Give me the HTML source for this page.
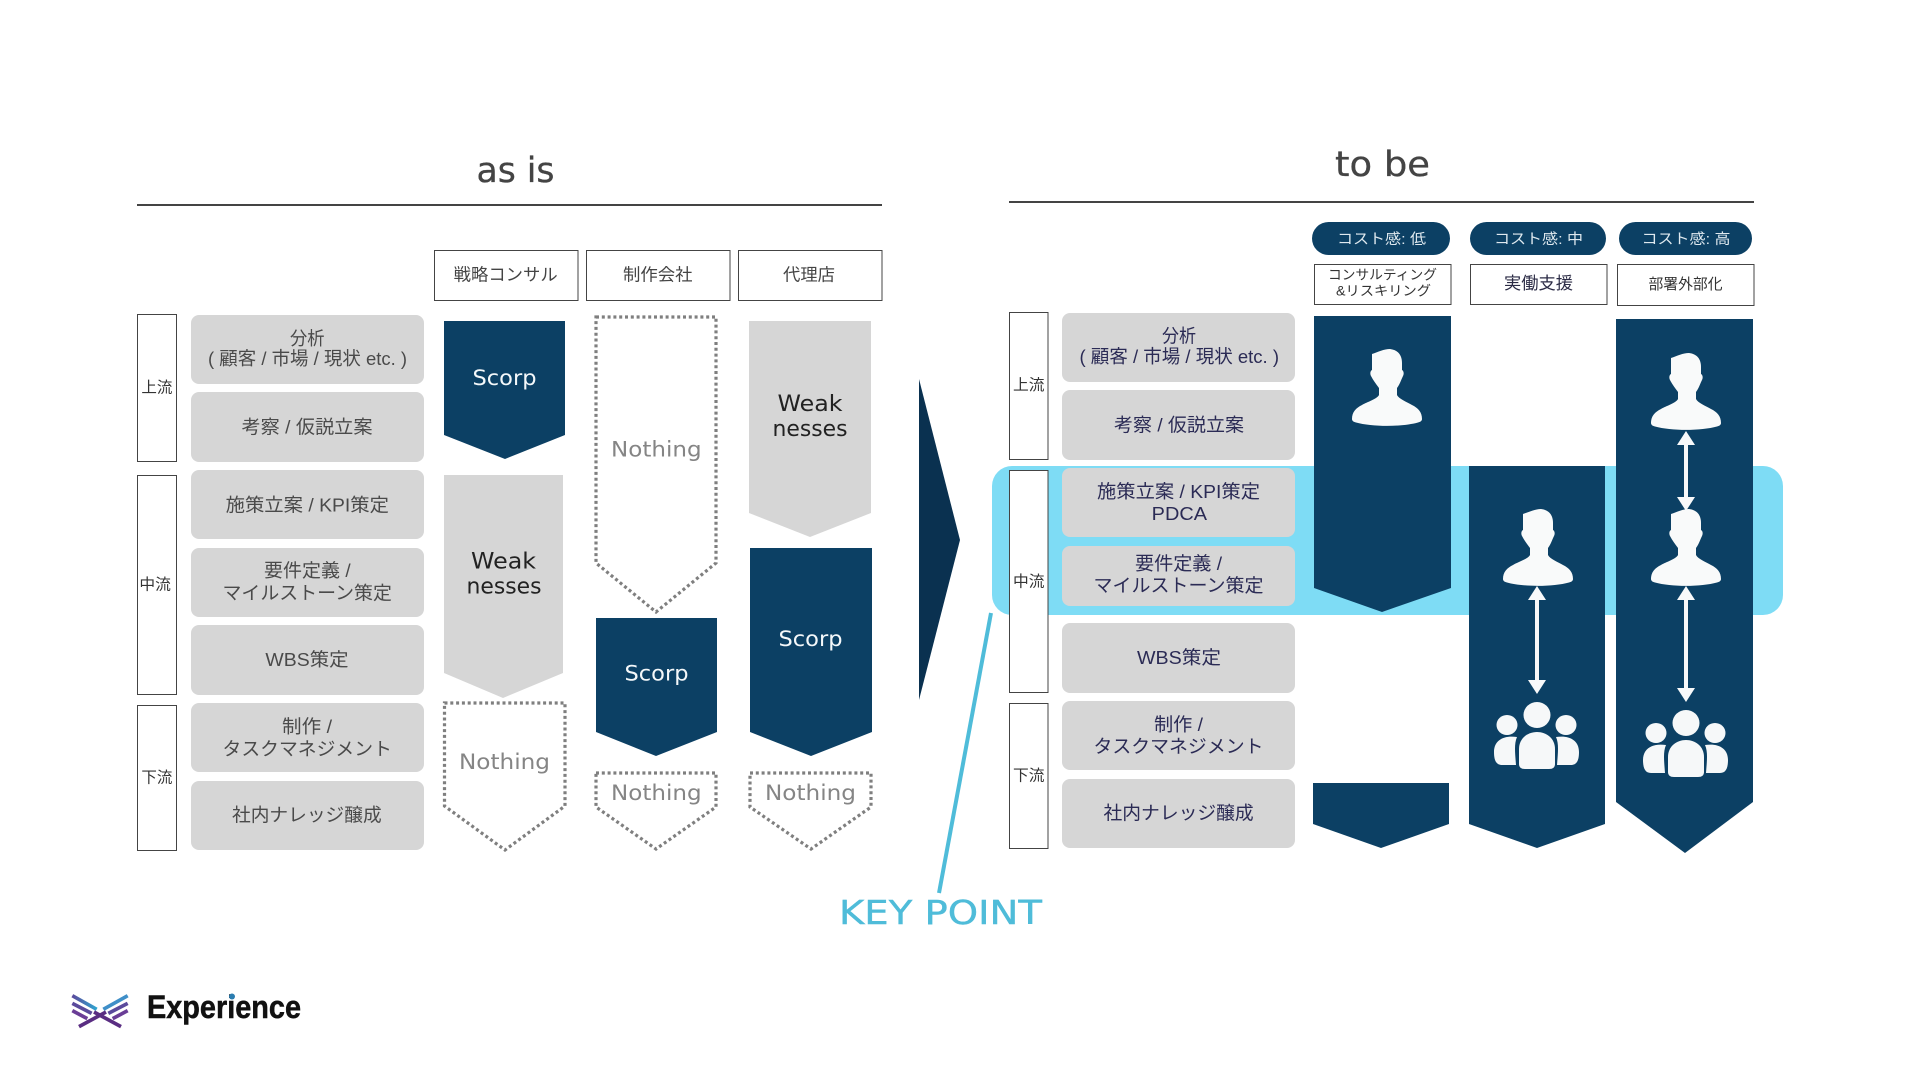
<!DOCTYPE html>
<html lang="ja"><head><meta charset="utf-8"><title>as is / to be</title>
<style>
html,body{margin:0;padding:0;background:#fff;width:1920px;height:1080px;overflow:hidden}
svg{display:block}
text{font-family:"Liberation Sans","Noto Sans CJK JP",sans-serif;white-space:pre}
.m{font-family:"DejaVu Sans","Noto Sans CJK JP",sans-serif}
.a{font-size:18.5px;fill:#4a4a4a}
.t{font-size:18.5px;fill:#2b2b55}
.g{fill:#d6d6d6}
.n{fill:#0c4064}
.d{fill:none;stroke:#7f7f7f;stroke-width:3.2;stroke-dasharray:3 2.8}
.b{fill:#fff;stroke:#444;stroke-width:1}
.tg{font-size:15.5px;fill:#333}
.h{font-size:17px;fill:#444}
.w{font-size:21px;fill:#f4f8fa}
.no{font-size:21px;fill:#858585}
.k{font-size:22px;fill:#222}
.p{font-size:14.5px;fill:#dfe9ef}
.ln{stroke:#f8f9fa;stroke-width:4}
</style></head><body>
<svg xmlns="http://www.w3.org/2000/svg" width="1920" height="1080" viewBox="0 0 1920 1080">
<defs>
<linearGradient id="lg1" x1="0" y1="0" x2="1" y2="0"><stop offset="0" stop-color="#5b4a9c"/><stop offset="1" stop-color="#2fa5d0"/></linearGradient>
<symbol id="person" viewBox="0 0 70 77" width="70" height="77" overflow="visible">
<path fill="#f9fafa" d="M20 5C26 3 32 0 38 0C46 1 50 6 50 14L50 21C52 22 52 25 51 27C49 31 48 35 45 39L45 46C47 50 55 53 60 56C66 59 70 63 70 70C70 72 68 73 66 73.5C50 78 20 78 4 73.5C2 73 0 72 0 70C0 63 4 59 10 56C15 53 25 50 27 46L27 39C24 35 21 31 19 27C18 25 18 22 20 21Z"/>
</symbol>
<symbol id="group" viewBox="0 0 85 67" width="85" height="67" overflow="visible">
<g fill="#f6f8f9">
<ellipse cx="43" cy="13" rx="13.5" ry="13"/>
<ellipse cx="13" cy="23" rx="10.5" ry="10"/>
<ellipse cx="72" cy="23" rx="10.5" ry="10"/>
<path d="M25 62L25 47C25 36 34 30 43 30C52 30 61 36 61 47L61 62Q61 67 55 67L31 67Q25 67 25 62Z"/>
<path d="M23 35C10 33 0 38 0 50C0 58 2 63 8 63L22 63C21 50 20 42 23 35Z"/>
<path d="M62 35C75 33 85 38 85 50C85 58 83 63 77 63L63 63C64 50 65 42 62 35Z"/>
</g>
</symbol>
</defs>

<!-- band -->
<rect x="992" y="466" width="791" height="149" rx="20" fill="#7edcf5"/>

<!-- titles -->
<text class="m" x="476.5" y="182" font-size="35" fill="#444" stroke="#444" stroke-width=".3" textLength="78" lengthAdjust="spacingAndGlyphs">as is</text>
<line x1="137" y1="205" x2="882" y2="205" stroke="#444" stroke-width="2"/>
<text class="m" x="1335" y="176" font-size="35" fill="#444" stroke="#444" stroke-width=".3" textLength="95" lengthAdjust="spacingAndGlyphs">to be</text>
<line x1="1009" y1="202" x2="1754" y2="202" stroke="#444" stroke-width="2"/>

<!-- as is headers -->
<rect class="b" x="434.5" y="250.5" width="143.5" height="50"/>
<rect class="b" x="586.5" y="250.5" width="143.5" height="50"/>
<rect class="b" x="738.5" y="250.5" width="143.5" height="50"/>
<text class="h" x="453.7" y="280.5" textLength="104" lengthAdjust="spacingAndGlyphs">戦略コンサル</text>
<text class="h" x="623" y="280.5" textLength="69.5" lengthAdjust="spacingAndGlyphs">制作会社</text>
<text class="h" x="783" y="280.5" textLength="52" lengthAdjust="spacingAndGlyphs">代理店</text>

<!-- as is tags -->
<rect class="b" x="137.5" y="314.5" width="39" height="147"/>
<rect class="b" x="137.5" y="475.5" width="39" height="219"/>
<rect class="b" x="137.5" y="705.5" width="39" height="145"/>
<text class="tg" x="141.4" y="392.5" textLength="31" lengthAdjust="spacingAndGlyphs">上流</text>
<text class="tg" x="139.4" y="589.5" textLength="31.5" lengthAdjust="spacingAndGlyphs">中流</text>
<text class="tg" x="141.4" y="782.5" textLength="31" lengthAdjust="spacingAndGlyphs">下流</text>

<!-- as is rows -->
<rect class="g" x="191" y="315" width="233" height="69" rx="8"/>
<rect class="g" x="191" y="392" width="233" height="70" rx="8"/>
<rect class="g" x="191" y="470" width="233" height="69" rx="8"/>
<rect class="g" x="191" y="548" width="233" height="69" rx="8"/>
<rect class="g" x="191" y="625" width="233" height="70" rx="8"/>
<rect class="g" x="191" y="703" width="233" height="69" rx="8"/>
<rect class="g" x="191" y="781" width="233" height="69" rx="8"/>
<text class="a" x="290" y="345" textLength="34.5" lengthAdjust="spacingAndGlyphs">分析</text>
<text class="a" x="208" y="365" textLength="199" lengthAdjust="spacingAndGlyphs">( 顧客 / 市場 / 現状 etc. )</text>
<text class="a" x="241.5" y="433.5" textLength="131" lengthAdjust="spacingAndGlyphs">考察 / 仮説立案</text>
<text class="a" x="225.6" y="511.5" textLength="163.4" lengthAdjust="spacingAndGlyphs">施策立案 / KPI策定</text>
<text class="a" x="264" y="577" textLength="86.6" lengthAdjust="spacingAndGlyphs">要件定義 /</text>
<text class="a" x="222.5" y="599.5" textLength="169.4" lengthAdjust="spacingAndGlyphs">マイルストーン策定</text>
<text class="a" x="265.4" y="666" textLength="83.2" lengthAdjust="spacingAndGlyphs">WBS策定</text>
<text class="a" x="282" y="733" textLength="50" lengthAdjust="spacingAndGlyphs">制作 /</text>
<text class="a" x="222.5" y="755.5" textLength="169.4" lengthAdjust="spacingAndGlyphs">タスクマネジメント</text>
<text class="a" x="232" y="821.5" textLength="149.7" lengthAdjust="spacingAndGlyphs">社内ナレッジ醸成</text>

<!-- as is chevrons -->
<polygon class="n" points="444,321 565,321 565,435 505,459 444,435"/>
<polygon class="g" points="444,475 563,475 563,673 503,698 444,673"/>
<polygon class="d" points="444.5,703 565,703 565,806 505,850 444.5,806"/>
<polygon class="d" points="596,317 716,317 716,563 656,612 596,563"/>
<polygon class="n" points="596,618 717,618 717,732 656,756 596,732"/>
<polygon class="d" points="596,773 716,773 716,807 656,849 596,807"/>
<polygon class="g" points="749,321 871,321 871,513 810,537 749,513"/>
<polygon class="n" points="750,548 872,548 872,732 811,756 750,732"/>
<polygon class="d" points="750,773 871,773 871,807 811,849 750,807"/>
<text class="m w" x="472.5" y="385" textLength="64" lengthAdjust="spacingAndGlyphs">Scorp</text>
<text class="m w" x="624.5" y="680.7" textLength="64" lengthAdjust="spacingAndGlyphs">Scorp</text>
<text class="m w" x="778.5" y="646" textLength="64" lengthAdjust="spacingAndGlyphs">Scorp</text>
<text class="m no" x="611" y="456.7" textLength="90.6" lengthAdjust="spacingAndGlyphs">Nothing</text>
<text class="m no" x="459" y="769" textLength="91" lengthAdjust="spacingAndGlyphs">Nothing</text>
<text class="m no" x="611" y="800" textLength="90.6" lengthAdjust="spacingAndGlyphs">Nothing</text>
<text class="m no" x="765" y="800" textLength="91" lengthAdjust="spacingAndGlyphs">Nothing</text>
<text class="m k" x="777.5" y="411" textLength="65" lengthAdjust="spacingAndGlyphs">Weak</text>
<text class="m k" x="772.5" y="436" textLength="75" lengthAdjust="spacingAndGlyphs">nesses</text>
<text class="m k" x="471" y="568.5" textLength="65" lengthAdjust="spacingAndGlyphs">Weak</text>
<text class="m k" x="466.5" y="593.5" textLength="75" lengthAdjust="spacingAndGlyphs">nesses</text>

<!-- center arrow -->
<polygon points="919,379 960,540 919,700" fill="#0a3150"/>

<!-- key point -->
<line x1="991" y1="613" x2="939" y2="893" stroke="#4fbcd9" stroke-width="4"/>
<text class="m" x="839" y="924" font-size="33" fill="#4fbcd9" stroke="#4fbcd9" stroke-width=".4" textLength="203" lengthAdjust="spacingAndGlyphs">KEY POINT</text>

<!-- to be pills -->
<rect class="n" x="1312" y="222" width="138" height="33" rx="16.5"/>
<rect class="n" x="1470" y="222" width="136" height="33" rx="16.5"/>
<rect class="n" x="1619" y="222" width="133" height="33" rx="16.5"/>
<text class="p" x="1337" y="244" textLength="89" lengthAdjust="spacingAndGlyphs">コスト感: 低</text>
<text class="p" x="1494" y="244" textLength="89" lengthAdjust="spacingAndGlyphs">コスト感: 中</text>
<text class="p" x="1641.5" y="244" textLength="89" lengthAdjust="spacingAndGlyphs">コスト感: 高</text>

<!-- to be boxes -->
<rect class="b" x="1314.5" y="264.5" width="136.5" height="40"/>
<rect class="b" x="1470.5" y="264.5" width="136.5" height="40"/>
<rect class="b" x="1617.5" y="264.5" width="136.5" height="41"/>
<text x="1328" y="279.5" font-size="13.5" fill="#333" textLength="109" lengthAdjust="spacingAndGlyphs">コンサルティング</text>
<text x="1336" y="295.5" font-size="13.5" fill="#333" textLength="95" lengthAdjust="spacingAndGlyphs">&amp;リスキリング</text>
<text x="1504" y="289" font-size="17.3" fill="#2b2b45" textLength="69" lengthAdjust="spacingAndGlyphs">実働支援</text>
<text x="1648.5" y="289" font-size="14.7" fill="#333" textLength="74" lengthAdjust="spacingAndGlyphs">部署外部化</text>

<!-- to be tags -->
<rect class="b" x="1009.5" y="312.5" width="38.5" height="147"/>
<rect class="b" x="1009.5" y="470.5" width="38.5" height="222"/>
<rect class="b" x="1009.5" y="703.5" width="38.5" height="145"/>
<text class="tg" x="1013" y="390" textLength="31.5" lengthAdjust="spacingAndGlyphs">上流</text>
<text class="tg" x="1013" y="586.5" textLength="31.5" lengthAdjust="spacingAndGlyphs">中流</text>
<text class="tg" x="1013" y="780.5" textLength="31.5" lengthAdjust="spacingAndGlyphs">下流</text>

<!-- to be rows -->
<rect class="g" x="1062" y="313" width="233" height="69" rx="8"/>
<rect class="g" x="1062" y="390" width="233" height="70" rx="8"/>
<rect class="g" x="1062" y="468" width="233" height="69" rx="8"/>
<rect class="g" x="1062" y="546" width="233" height="60" rx="8"/>
<rect class="g" x="1062" y="623" width="233" height="70" rx="8"/>
<rect class="g" x="1062" y="701" width="233" height="69" rx="8"/>
<rect class="g" x="1062" y="779" width="233" height="69" rx="8"/>
<text class="t" x="1162" y="342.5" textLength="34" lengthAdjust="spacingAndGlyphs">分析</text>
<text class="t" x="1079.5" y="363" textLength="199.5" lengthAdjust="spacingAndGlyphs">( 顧客 / 市場 / 現状 etc. )</text>
<text class="t" x="1114" y="431.5" textLength="130" lengthAdjust="spacingAndGlyphs">考察 / 仮説立案</text>
<text class="t" x="1097" y="498" textLength="163" lengthAdjust="spacingAndGlyphs">施策立案 / KPI策定</text>
<text class="t" x="1151.7" y="520" textLength="55.3" lengthAdjust="spacingAndGlyphs">PDCA</text>
<text class="t" x="1135" y="570" textLength="87" lengthAdjust="spacingAndGlyphs">要件定義 /</text>
<text class="t" x="1093.5" y="592" textLength="170" lengthAdjust="spacingAndGlyphs">マイルストーン策定</text>
<text class="t" x="1137" y="664" textLength="84" lengthAdjust="spacingAndGlyphs">WBS策定</text>
<text class="t" x="1154" y="731" textLength="49" lengthAdjust="spacingAndGlyphs">制作 /</text>
<text class="t" x="1093.5" y="753" textLength="170" lengthAdjust="spacingAndGlyphs">タスクマネジメント</text>
<text class="t" x="1103.5" y="819.5" textLength="150.2" lengthAdjust="spacingAndGlyphs">社内ナレッジ醸成</text>

<!-- to be columns -->
<polygon class="n" points="1314,316 1451,316 1451,588 1382,612 1314,588"/>
<polygon class="n" points="1313,783 1449,783 1449,824 1381,848 1313,824"/>
<polygon class="n" points="1469,466 1605,466 1605,824 1537,848 1469,824"/>
<polygon class="n" points="1616,319 1753,319 1753,802 1685,853 1616,802"/>

<use href="#person" x="1352" y="349" width="70" height="77"/>
<use href="#person" x="1651" y="353" width="70" height="77"/>
<use href="#person" x="1503" y="509" width="70" height="77"/>
<use href="#person" x="1651" y="509" width="70" height="77"/>
<use href="#group" x="1494" y="702" width="85" height="67"/>
<use href="#group" x="1643" y="710" width="85" height="67"/>

<!-- double arrows -->
<line class="ln" x1="1686" y1="442" x2="1686" y2="500"/>
<polygon points="1686,431 1695,445 1677,445" fill="#f8f9fa"/>
<polygon points="1686,511 1695,497 1677,497" fill="#f8f9fa"/>
<line class="ln" x1="1537" y1="597" x2="1537" y2="683"/>
<polygon points="1537,586 1546,600 1528,600" fill="#f8f9fa"/>
<polygon points="1537,694 1546,680 1528,680" fill="#f8f9fa"/>
<line class="ln" x1="1686" y1="597" x2="1686" y2="691"/>
<polygon points="1686,586 1695,600 1677,600" fill="#f8f9fa"/>
<polygon points="1686,702 1695,688 1677,688" fill="#f8f9fa"/>

<!-- logo -->
<g transform="translate(50 980) scale(.3333)" fill="none" stroke-width="11">
<path d="M67 47L140 88" stroke="url(#lg1)"/>
<path d="M67 70L125 100" stroke="#5b4a9c"/>
<path d="M67 92L112 116" stroke="#6a3d96"/>
<path d="M87 140L168 96" stroke="#5a2d82"/>
<path d="M233 47L160 88" stroke="#3f8fc8"/>
<path d="M233 70L175 100" stroke="#5b4a9c"/>
<path d="M233 92L188 116" stroke="#6a3d96"/>
<path d="M213 140L132 96" stroke="#5a2d82"/>
</g>
<text x="147" y="1018" font-size="32" font-weight="bold" fill="#111" stroke="#111" stroke-width=".5" textLength="154" lengthAdjust="spacingAndGlyphs">Experience</text>
<circle cx="232" cy="996.5" r="3" fill="#2b7db0"/>
</svg>
</body></html>
